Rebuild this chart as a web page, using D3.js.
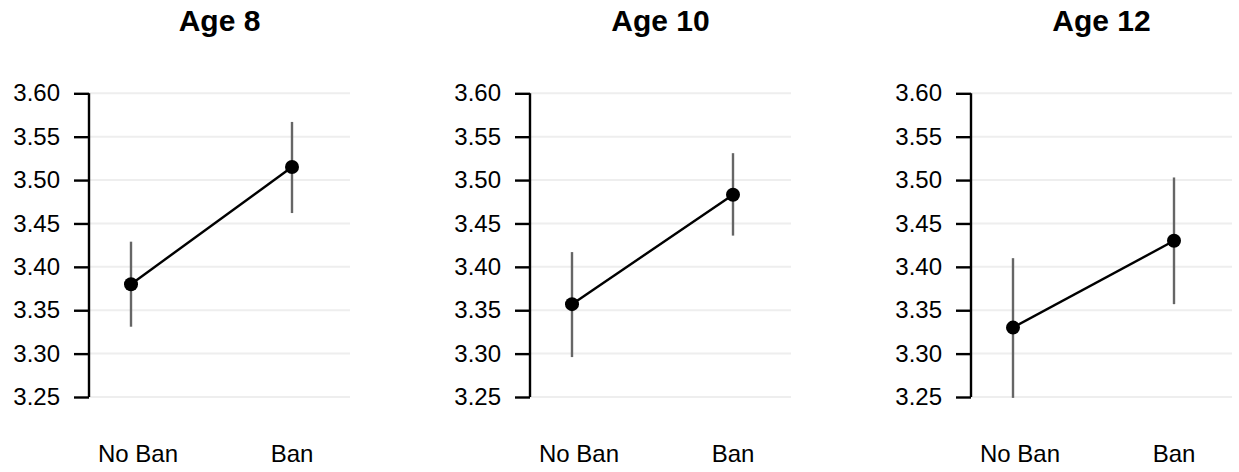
<!DOCTYPE html>
<html>
<head>
<meta charset="utf-8">
<script src="https://cdn.jsdelivr.net/npm/d3@7"></script>
<style>
  html, body { margin: 0; padding: 0; background: #fff; }
  svg { display: block; }
  text { font-family: "Liberation Sans", Arial, Helvetica, sans-serif; }
</style>
</head>
<body>
<svg id="chart" width="1239" height="472"></svg>
<script>
// Panel titles and conditions
const panels = ["Age 8", "Age 10", "Age 12"];
const conditions = ["No Ban", "Ban"];

// Estimated means with lower / upper interval bounds, per panel (No Ban, Ban)
const means = [
  [3.380, 3.515],
  [3.357, 3.483],
  [3.330, 3.430]
];
const lower = [
  [3.331, 3.462],
  [3.296, 3.436],
  [3.249, 3.357]
];
const upper = [
  [3.429, 3.567],
  [3.417, 3.531],
  [3.410, 3.503]
];

// Y axis ticks
const yTicks = [3.25, 3.30, 3.35, 3.40, 3.45, 3.50, 3.55, 3.60];

const svg = d3.select("#chart");

const panelStep = 441;
const axisX0 = 89;
const plotW = 261;
const yTop = 93.3, yBottom = 397;

const y = d3.scaleLinear().domain([3.25, 3.60]).range([yBottom, yTop]);
const x = d3.scalePoint().domain(conditions).range([42, 203]);
const xLabel = d3.scalePoint().domain(conditions).range([49, 203]);

panels.forEach((title, i) => {
  const g = svg.append("g").attr("transform", `translate(${axisX0 + i * panelStep},0)`);

  // horizontal gridlines
  g.selectAll("line.grid").data(yTicks).enter().append("line")
    .attr("class", "grid")
    .attr("x1", 0).attr("x2", plotW)
    .attr("y1", d => y(d)).attr("y2", d => y(d))
    .attr("stroke", "#eeeeee").attr("stroke-width", 2);

  // y axis
  const yAxis = d3.axisLeft(y).tickValues(yTicks).tickFormat(d3.format(".2f"))
    .tickSize(15).tickPadding(14);
  const ax = g.append("g").call(yAxis);
  ax.select(".domain").attr("d", `M0,${y(3.60)}V${y(3.25)}`)
    .attr("stroke", "#000").attr("stroke-width", 2.4);
  ax.selectAll(".tick line").attr("stroke", "#000").attr("stroke-width", 2.4);
  ax.selectAll(".tick text").attr("font-size", 24).attr("fill", "#000")
    .attr("font-family", "Liberation Sans, Arial, sans-serif");

  // x labels
  g.selectAll("text.xl").data(conditions).enter().append("text")
    .attr("class", "xl")
    .attr("x", d => xLabel(d)).attr("y", 462)
    .attr("text-anchor", "middle").attr("font-size", 24).attr("fill", "#000")
    .text(d => d);

  // title
  g.append("text")
    .attr("x", plotW / 2).attr("y", 31)
    .attr("text-anchor", "middle").attr("font-size", 30).attr("font-weight", "bold")
    .attr("fill", "#000")
    .text(title);

  const rows = conditions.map((c, j) => ({ c, m: means[i][j], lo: lower[i][j], hi: upper[i][j] }));

  // interval bars
  g.selectAll("line.err").data(rows).enter().append("line")
    .attr("class", "err")
    .attr("x1", d => x(d.c)).attr("x2", d => x(d.c))
    .attr("y1", d => y(d.lo)).attr("y2", d => y(d.hi))
    .attr("stroke", "#666666").attr("stroke-width", 2.4);

  // connecting line
  g.append("path")
    .datum(rows)
    .attr("d", d3.line().x(d => x(d.c)).y(d => y(d.m)))
    .attr("fill", "none").attr("stroke", "#000").attr("stroke-width", 2.4);

  // points
  g.selectAll("circle").data(rows).enter().append("circle")
    .attr("cx", d => x(d.c)).attr("cy", d => y(d.m))
    .attr("r", 7).attr("fill", "#000");
});
</script>
</body>
</html>
